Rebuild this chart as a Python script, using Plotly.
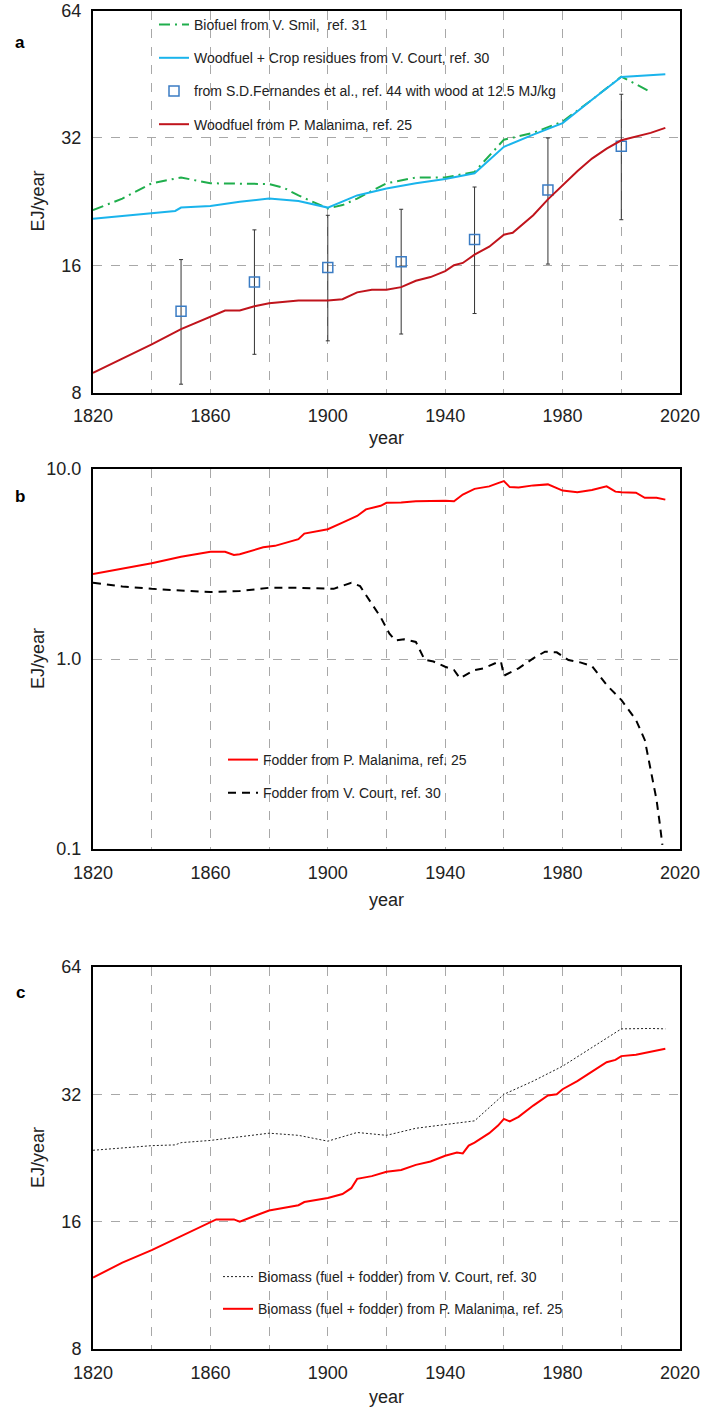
import math
import plotly.graph_objects as go

# ---------------- Panel a ----------------
smil_years = [1820, 1830, 1840, 1850, 1860, 1870, 1880, 1885, 1890, 1900, 1905, 1910, 1920, 1930, 1940, 1950, 1960, 1970, 1980, 1990, 2000, 2010]
smil_vals = [21.6, 23.0, 25.0, 25.8, 25.0, 24.9, 24.9, 24.4, 23.4, 21.8, 22.2, 23.0, 25.0, 25.8, 25.8, 26.6, 31.7, 32.9, 35.0, 39.4, 44.7, 41.1]

court_wood_years = [1820, 1840, 1848, 1850, 1860, 1870, 1880, 1890, 1900, 1910, 1920, 1930, 1940, 1950, 1960, 1970, 1980, 1990, 2000, 2015]
court_wood_vals = [20.6, 21.3, 21.5, 21.9, 22.1, 22.6, 23.0, 22.7, 21.9, 23.4, 24.3, 25.0, 25.6, 26.4, 30.5, 32.6, 34.7, 39.4, 44.6, 45.3]

fern_years = [1850, 1875, 1900, 1925, 1950, 1975, 2000]
fern_vals = [12.45, 14.6, 15.8, 16.3, 18.4, 24.1, 30.6]
fern_hi = [16.5, 19.4, 21.0, 21.7, 24.5, 32.0, 40.6]
fern_lo = [8.37, 9.85, 10.6, 11.0, 12.3, 16.1, 20.5]

mal_wood_years = [1820, 1830, 1840, 1850, 1860, 1865, 1870, 1875, 1880, 1890, 1900, 1905, 1910, 1915, 1920, 1925, 1930, 1935, 1940, 1943, 1946, 1950, 1955, 1960, 1963, 1970, 1975, 1980, 1985, 1990, 1995, 2000, 2005, 2010, 2015]
mal_wood_vals = [8.9, 9.6, 10.4, 11.3, 12.1, 12.5, 12.5, 12.8, 13.0, 13.2, 13.2, 13.3, 13.8, 14.0, 14.0, 14.2, 14.7, 15.0, 15.5, 16.0, 16.2, 16.95, 17.7, 18.9, 19.1, 21.0, 22.9, 24.7, 26.7, 28.6, 30.2, 31.6, 32.3, 32.9, 33.8]

# ---------------- Panel b ----------------
mal_fod_years = [1820, 1830, 1840, 1850, 1860, 1865, 1868, 1870, 1875, 1878, 1882, 1890, 1892, 1900, 1905, 1910, 1913, 1918, 1920, 1925, 1930, 1935, 1940, 1943, 1946, 1950, 1955, 1958, 1960, 1962, 1965, 1970, 1975, 1980, 1985, 1990, 1995, 1998, 2000, 2005, 2008, 2012, 2015]
mal_fod_vals = [2.80, 2.98, 3.19, 3.45, 3.67, 3.67, 3.53, 3.56, 3.74, 3.87, 3.94, 4.27, 4.57, 4.82, 5.22, 5.66, 6.13, 6.4, 6.64, 6.66, 6.76, 6.8, 6.8, 6.76, 7.34, 7.86, 8.1, 8.43, 8.63, 8.03, 8.0, 8.2, 8.3, 7.7, 7.55, 7.75, 8.1, 7.6, 7.55, 7.5, 7.05, 7.05, 6.9]

court_fod_years = [1820, 1830, 1840, 1850, 1860, 1870, 1880, 1890, 1900, 1902, 1908, 1911, 1915, 1918, 1921, 1923, 1926, 1930, 1933, 1936, 1940, 1943, 1945, 1950, 1953, 1957, 1959, 1960, 1965, 1970, 1974, 1978, 1982, 1986, 1990, 1995, 2000, 2005, 2008, 2010, 2012, 2013, 2014]
court_fod_vals = [2.52, 2.41, 2.34, 2.29, 2.25, 2.28, 2.37, 2.37, 2.34, 2.34, 2.52, 2.42, 1.95, 1.66, 1.36, 1.25, 1.27, 1.23, 0.99, 0.97, 0.91, 0.875, 0.792, 0.875, 0.893, 0.949, 0.968, 0.817, 0.893, 1.008, 1.093, 1.084, 0.988, 0.96, 0.919, 0.730, 0.609, 0.478, 0.375, 0.256, 0.182, 0.140, 0.105]

# ---------------- Panel c ----------------
court_bio_years = [1820, 1840, 1848, 1850, 1860, 1870, 1880, 1890, 1900, 1910, 1920, 1930, 1940, 1950, 1960, 1970, 1980, 1990, 2000, 2010, 2015]
court_bio_vals = [23.6, 24.2, 24.3, 24.6, 24.9, 25.4, 25.9, 25.6, 24.8, 26.0, 25.6, 26.6, 27.2, 27.7, 32.0, 34.4, 37.3, 41.2, 45.7, 45.8, 45.7]

mal_bio_years = [1820, 1830, 1840, 1850, 1860, 1862, 1868, 1870, 1875, 1880, 1890, 1892, 1900, 1905, 1908, 1910, 1915, 1920, 1925, 1930, 1935, 1940, 1944, 1946, 1948, 1950, 1955, 1958, 1960, 1962, 1965, 1970, 1975, 1978, 1980, 1985, 1990, 1995, 1998, 2000, 2005, 2010, 2015]
mal_bio_vals = [11.8, 12.8, 13.7, 14.8, 16.0, 16.2, 16.2, 16.0, 16.5, 17.0, 17.5, 17.8, 18.2, 18.6, 19.2, 20.2, 20.5, 21.0, 21.2, 21.8, 22.2, 22.9, 23.3, 23.2, 24.2, 24.6, 25.9, 27.0, 28.0, 27.6, 28.3, 30.1, 31.8, 32.0, 32.9, 34.4, 36.2, 38.1, 38.6, 39.4, 39.7, 40.3, 41.0]

x_tickvals = list(range(1820, 2021, 20))
x_ticktext = [str(v) if (v - 1820) % 40 == 0 else "" for v in x_tickvals]

FONT = "Liberation Sans, Arial, sans-serif"
W, H = 704, 1407

fig = go.Figure()

# Panel a traces
fig.add_trace(go.Scatter(x=smil_years, y=smil_vals, mode="lines", name="Biofuel from V. Smil,  ref. 31",
                         line=dict(color="#1fae4c", width=2, dash="11px,5px,2px,5px"),
                         xaxis="x", yaxis="y", legend="legend", legendgroup="a1"))
fig.add_trace(go.Scatter(x=court_wood_years, y=court_wood_vals, mode="lines", name="Woodfuel + Crop residues from V. Court, ref. 30",
                         line=dict(color="#1ab4ec", width=2),
                         xaxis="x", yaxis="y", legend="legend", legendgroup="a2"))
fig.add_trace(go.Scatter(x=fern_years, y=fern_vals, mode="markers", name="from S.D.Fernandes et al., ref. 44 with wood at 12.5 MJ/kg",
                         marker=dict(symbol="square-open", size=10, color="#3b7cc4", line=dict(width=1.5, color="#3b7cc4")),
                         error_y=dict(type="data", symmetric=False,
                                      array=[h - v for h, v in zip(fern_hi, fern_vals)],
                                      arrayminus=[v - l for l, v in zip(fern_lo, fern_vals)],
                                      color="#333333", thickness=1, width=2),
                         xaxis="x", yaxis="y", legend="legend", legendgroup="a3"))
fig.add_trace(go.Scatter(x=mal_wood_years, y=mal_wood_vals, mode="lines", name="Woodfuel from P. Malanima, ref. 25",
                         line=dict(color="#c0141c", width=2),
                         xaxis="x", yaxis="y", legend="legend", legendgroup="a4"))

# Panel b traces
fig.add_trace(go.Scatter(x=mal_fod_years, y=mal_fod_vals, mode="lines", name="Fodder from P. Malanima, ref. 25",
                         line=dict(color="#ff0000", width=2),
                         xaxis="x2", yaxis="y2", legend="legend2", legendgroup="b1"))
fig.add_trace(go.Scatter(x=court_fod_years, y=court_fod_vals, mode="lines", name="Fodder from V. Court, ref. 30",
                         line=dict(color="#000000", width=2, dash="8px,6px"),
                         xaxis="x2", yaxis="y2", legend="legend2", legendgroup="b2"))

# Panel c traces
fig.add_trace(go.Scatter(x=court_bio_years, y=court_bio_vals, mode="lines", name="Biomass (fuel + fodder) from V. Court, ref. 30",
                         line=dict(color="#222222", width=1, dash="2px,2px"),
                         xaxis="x3", yaxis="y3", legend="legend3", legendgroup="c1"))
fig.add_trace(go.Scatter(x=mal_bio_years, y=mal_bio_vals, mode="lines", name="Biomass (fuel + fodder) from P. Malanima, ref. 25",
                         line=dict(color="#ff0000", width=2),
                         xaxis="x3", yaxis="y3", legend="legend3", legendgroup="c2"))

xdom = [93 / W, 680 / W]
def ydom(top, bottom):
    return [1 - bottom / H, 1 - top / H]

axis_common = dict(showline=True, mirror=True, linecolor="black", linewidth=2,
                   showgrid=True, gridcolor="#a8a8a8", griddash="dash", gridwidth=1,
                   ticks="", zeroline=False, automargin=False,
                   tickfont=dict(family=FONT, size=18, color="#222222"))

def xaxis_cfg(anchor):
    d = dict(axis_common)
    d.update(domain=xdom, anchor=anchor, range=[1820, 2020],
             tickmode="array", tickvals=x_tickvals, ticktext=x_ticktext, ticklabelstandoff=6)
    return d

def yaxis_cfg(anchor, dom, rng, tv, tt):
    d = dict(axis_common)
    d.update(domain=dom, anchor=anchor, type="log", range=rng,
             tickmode="array", tickvals=tv, ticktext=tt, ticklabelstandoff=6)
    return d

dom_a = ydom(10.7, 392.5)
dom_b = ydom(469, 849)
dom_c = ydom(967, 1349)

legend_common = dict(xanchor="left", yanchor="top", bgcolor="rgba(255,255,255,0)",
                     font=dict(family=FONT, size=14, color="#222222"), traceorder="grouped", itemwidth=30)

fig.update_layout(
    width=W, height=H,
    margin=dict(l=0, r=0, t=0, b=0),
    paper_bgcolor="white", plot_bgcolor="white",
    font=dict(family=FONT, size=14, color="#222222"),
    xaxis=xaxis_cfg("y"),
    yaxis=yaxis_cfg("x", dom_a, [math.log10(8), math.log10(64)], [8, 16, 32, 64], ["8", "16", "32", "64"]),
    xaxis2=xaxis_cfg("y2"),
    yaxis2=yaxis_cfg("x2", dom_b, [-1, 1], [0.1, 1, 10], ["0.1", "1.0", "10.0"]),
    xaxis3=xaxis_cfg("y3"),
    yaxis3=yaxis_cfg("x3", dom_c, [math.log10(8), math.log10(64)], [8, 16, 32, 64], ["8", "16", "32", "64"]),
    legend=dict(x=154 / W, y=1 - 9 / H, tracegroupgap=12, **legend_common),
    legend2=dict(x=223 / W, y=1 - 744 / H, tracegroupgap=12, **legend_common),
    legend3=dict(x=218 / W, y=1 - 1261 / H, tracegroupgap=11, **legend_common),
    showlegend=True,
)

annotations = []
for lab, ytop in [("a", 43), ("b", 496), ("c", 992)]:
    annotations.append(dict(text="<b>" + lab + "</b>", x=20 / W, y=1 - ytop / H, xref="paper", yref="paper",
                            showarrow=False, font=dict(family=FONT, size=17, color="black"),
                            xanchor="center", yanchor="middle"))
for dom in [dom_a, dom_b, dom_c]:
    annotations.append(dict(text="EJ/year", x=38 / W, y=(dom[0] + dom[1]) / 2, xref="paper", yref="paper",
                            showarrow=False, textangle=-90, font=dict(family=FONT, size=18, color="#222222"),
                            xanchor="center", yanchor="middle"))
for yy in [438, 900, 1397]:
    annotations.append(dict(text="year", x=(xdom[0] + xdom[1]) / 2, y=1 - yy / H, xref="paper", yref="paper",
                            showarrow=False, font=dict(family=FONT, size=18, color="#222222"),
                            xanchor="center", yanchor="middle"))
fig.update_layout(annotations=annotations)

fig.write_html("out.html", config={"displayModeBar": False},
               post_script="document.body.style.margin='0';document.body.style.overflow='hidden';")
